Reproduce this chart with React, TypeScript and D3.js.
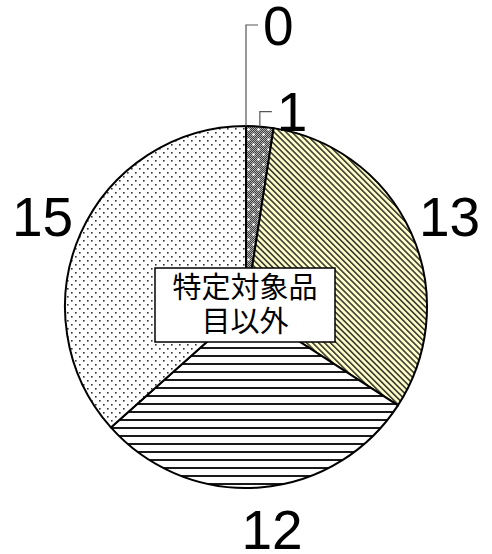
import React from 'react';
import * as d3 from 'd3';

const values = [0, 1, 13, 12, 15];
const labels = ['0', '1', '13', '12', '15'];
const fills = ['url(#pZero)', 'url(#pDark)', 'url(#pDiag)', 'url(#pHoriz)', 'url(#pDots)'];
const centerText = ['特定対象品', '目以外'];

const W = 492;
const H = 554;
const cx = 246;
const cy = 307;
const R = 181;

export default function App() {
  const pie = d3.pie<number>().sort(null).value((d) => d);
  const arcs = pie(values);
  const arc = d3.arc<d3.PieArcDatum<number>>().innerRadius(0).outerRadius(R);

  // point on the rim for a given angle (clockwise from 12 o'clock)
  const rim = (a: number, r: number) => [r * Math.sin(a), -r * Math.cos(a)];

  return (
    <div style={{ position: 'fixed', left: 0, top: 0 }}>
      <svg width={W} height={H} style={{ display: 'block', background: '#fff' }}>
        <defs>
          <pattern id="checker" width="2" height="2" patternUnits="userSpaceOnUse">
            <rect width="2" height="2" fill="#b0b0b0" />
            <rect width="1" height="1" fill="#404040" />
            <rect x="1" y="1" width="1" height="1" fill="#404040" />
          </pattern>
          <pattern id="pDark" width="10" height="10" patternUnits="userSpaceOnUse">
            <rect width="10" height="10" fill="url(#checker)" />
            <circle cx="2.5" cy="2.5" r="1.3" fill="#fff" />
            <circle cx="7.5" cy="7.5" r="1.3" fill="#fff" />
          </pattern>
          <pattern id="pDiag" width="4.2" height="4.2" patternUnits="userSpaceOnUse" patternTransform="rotate(-45)">
            <rect width="4.2" height="4.2" fill="#ffffcc" />
            <rect width="1.6" height="4.2" fill="#3c3c30" />
          </pattern>
          <pattern id="pHoriz" width="8" height="8" patternUnits="userSpaceOnUse">
            <rect width="8" height="8" fill="#fff" />
            <rect y="0" width="8" height="2" fill="#1a1a1a" />
          </pattern>
          <pattern id="pDots" width="8" height="8" patternUnits="userSpaceOnUse">
            <rect width="8" height="8" fill="#fff" />
            <rect x="1" y="1" width="1.6" height="1.6" fill="#333" />
            <rect x="5" y="5" width="1.6" height="1.6" fill="#333" />
          </pattern>
          <pattern id="pZero" width="4" height="4" patternUnits="userSpaceOnUse">
            <rect width="4" height="4" fill="#fff" />
          </pattern>
        </defs>

        <g transform={`translate(${cx},${cy})`}>
          {arcs.map((a, i) => (
            <path
              key={i}
              d={arc(a) || ''}
              fill={fills[i]}
              stroke="#000"
              strokeWidth={2}
              strokeLinejoin="round"
            />
          ))}

          {arcs.map((a, i) => {
            const mid = (a.startAngle + a.endAngle) / 2;
            if (values[i] <= 1) {
              // small slices get a leader line going up
              const [px, py] = rim(mid, R);
              const rise = values[i] === 0 ? 101 : 15;
              const ty = py - rise;
              return (
                <g key={'l' + i}>
                  <polyline
                    points={`${px},${py} ${px},${ty} ${px + 12},${ty}`}
                    fill="none"
                    stroke="#555"
                    strokeWidth={1.2}
                  />
                  <text
                    x={px + 17}
                    y={ty}
                    dy="0.36em"
                    fontFamily="'Liberation Sans', Arial, sans-serif"
                    fontSize={55}
                    fill="#000"
                  >
                    {labels[i]}
                  </text>
                </g>
              );
            }
            const [lx, ly] = rim(mid, 223);
            // bottom label sits a little right of the slice's middle
            const nudge = Math.abs(Math.cos(mid)) > 0.9 ? 9 : 0;
            return (
              <text
                key={'l' + i}
                x={lx + nudge}
                y={ly}
                dy="0.36em"
                textAnchor="middle"
                fontFamily="'Liberation Sans', Arial, sans-serif"
                fontSize={55}
                fill="#000"
              >
                {labels[i]}
              </text>
            );
          })}
        </g>

        <g transform={`translate(${cx - 1},${cy - 2})`}>
          <rect x={-90} y={-37} width={180} height={74} fill="#fff" stroke="#000" strokeWidth={1.5} />
          {centerText.map((t, i) => (
            <text
              key={i}
              x={0}
              y={-17 + i * 34}
              dy="0.36em"
              textAnchor="middle"
              fontFamily="'Noto Sans CJK JP', sans-serif"
              fontSize={29}
              fill="#000"
            >
              {t}
            </text>
          ))}
        </g>
      </svg>
    </div>
  );
}
